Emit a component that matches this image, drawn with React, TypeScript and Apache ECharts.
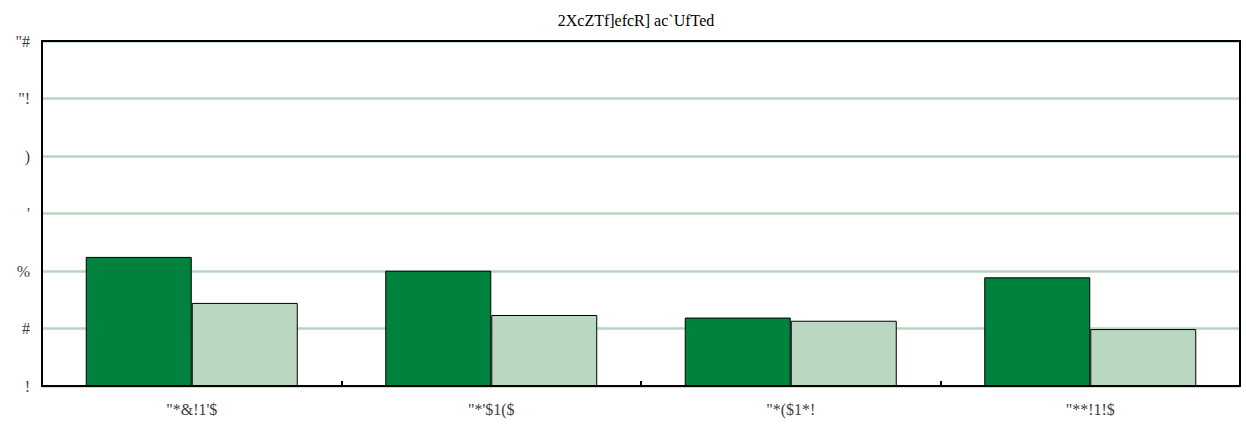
import React, { useEffect, useRef } from "react";
import * as echarts from "echarts";

const TITLE = "2XcZTf]efcR] ac`UfTed";
const CATEGORIES = ["\"*&!1'$", "\"*'$1($", "\"*($1*!", "\"**!1!$"];
const SERIES_DARK = [4.49, 4.01, 2.38, 3.78];
const SERIES_LIGHT = [2.89, 2.47, 2.27, 1.98];
const Y_MIN = 0;
const Y_MAX = 12;
const Y_INTERVAL = 2;

const encode = (v: number) =>
  String(v)
    .split("")
    .map((c) => String.fromCharCode(c.charCodeAt(0) - 15))
    .join("");

const FONT = "'Liberation Serif', 'DejaVu Serif', serif";

export default function App() {
  const ref = useRef<HTMLDivElement>(null);
  useEffect(() => {
    if (!ref.current) return;
    const chart = echarts.init(ref.current, undefined, { renderer: "svg" });
    const frameLine = { show: true, onZero: false, lineStyle: { color: "#000", width: 2 } };
    chart.setOption({
      animation: false,
      backgroundColor: "#ffffff",
      title: {
        text: TITLE,
        left: 631,
        top: 7,
        textAlign: "center",
        textStyle: { fontFamily: FONT, fontSize: 16, fontWeight: "normal", color: "#000" },
      },
      grid: {
        left: 42,
        right: 6,
        top: 41,
        bottom: 41,
        containLabel: false,
      },
      xAxis: [
        {
          type: "category",
          data: CATEGORIES,
          axisLine: frameLine,
          axisTick: { show: true, inside: true, length: 5, lineStyle: { color: "#000", width: 2 } },
          axisLabel: { fontFamily: FONT, fontSize: 16, color: "#404040", margin: 15 },
          splitLine: { show: false },
          z: 5,
        },
        {
          type: "category",
          position: "top",
          data: CATEGORIES,
          axisLine: frameLine,
          axisTick: { show: false },
          axisLabel: { show: false },
          splitLine: { show: false },
          z: 5,
        },
      ],
      yAxis: [
        {
          type: "value",
          min: Y_MIN,
          max: Y_MAX,
          interval: Y_INTERVAL,
          axisLine: frameLine,
          axisTick: { show: false },
          axisLabel: {
            fontFamily: FONT,
            fontSize: 16,
            color: "#404040",
            margin: 12,
            formatter: (v: number) => encode(v),
          },
          splitLine: { show: true, lineStyle: { color: "#b7d6bf", width: 2.5 } },
        },
        {
          type: "value",
          position: "right",
          min: Y_MIN,
          max: Y_MAX,
          interval: Y_INTERVAL,
          axisLine: frameLine,
          axisTick: { show: false },
          axisLabel: { show: false },
          splitLine: { show: false },
          z: 5,
        },
      ],
      series: [
        {
          type: "bar",
          data: SERIES_DARK,
          barWidth: 106,
          barGap: "0%",
          itemStyle: { color: "#00823f", borderColor: "#000", borderWidth: 1 },
        },
        {
          type: "bar",
          data: SERIES_LIGHT,
          barWidth: 106,
          barGap: "0%",
          itemStyle: { color: "#b9d7c1", borderColor: "#000", borderWidth: 1 },
        },
      ],
    });
    return () => chart.dispose();
  }, []);
  return (
    <div
      ref={ref}
      style={{ position: "fixed", left: 0, top: 0, width: 1246, height: 427 }}
    />
  );
}
